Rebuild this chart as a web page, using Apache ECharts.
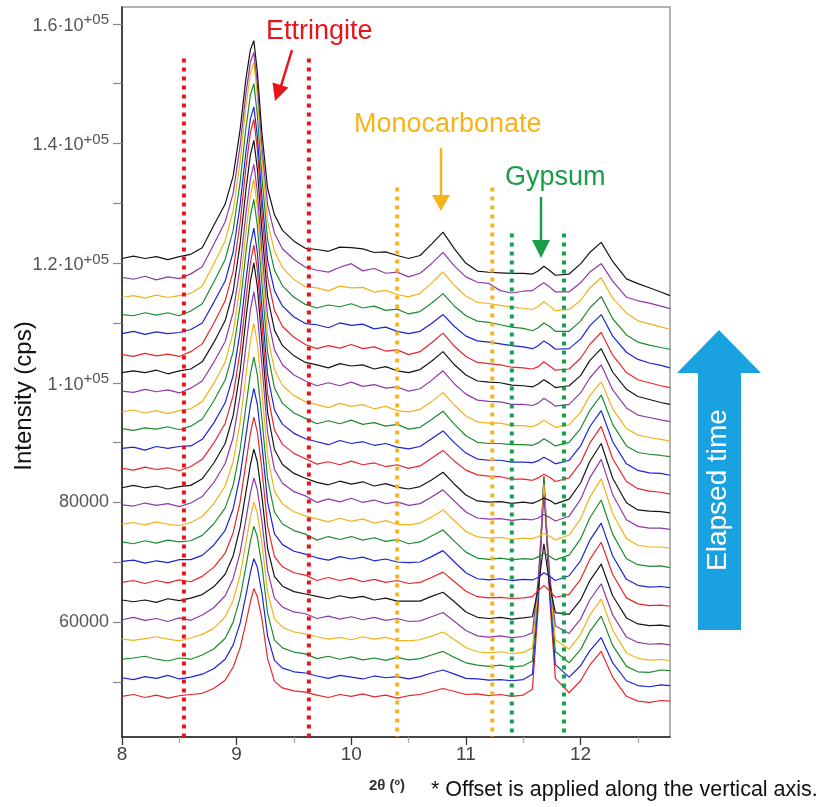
<!DOCTYPE html>
<html><head><meta charset="utf-8">
<script src="https://cdn.jsdelivr.net/npm/echarts@6/dist/echarts.min.js"></script>
<style>html,body{margin:0;padding:0;background:#fff}#c{width:827px;height:807px}</style>
</head><body><div id="c"></div>
<script>
// 2θ sampling positions (degrees)
const twoTheta = [8.00,8.10,8.20,8.30,8.40,8.50,8.60,8.70,8.80,8.90,8.97,9.03,9.08,9.12,9.15,9.18,9.22,9.27,9.33,9.40,9.50,9.60,9.70,9.80,9.90,10.00,10.10,10.20,10.30,10.40,10.50,10.60,10.70,10.80,10.90,11.00,11.10,11.20,11.30,11.40,11.50,11.58,11.63,11.68,11.73,11.78,11.90,12.00,12.08,12.18,12.28,12.40,12.50,12.60,12.70,12.78];
// vertical offset applied to each pattern (cps), bottom (first) to top (last)
const offsets = [47600,50700,53800,57150,60400,63700,66650,70150,73400,76350,79600,82450,85700,89050,92350,95150,98600,101700,104700,108200,111400,114250,117600,120770];
// patterns (cps, relative to their offset)
const s00 = [0,300,-200,200,-300,100,300,500,1300,2700,4900,8100,12200,15800,18000,16700,13000,6300,2500,1400,900,700,200,-200,300,0,400,-100,200,-300,100,300,800,1300,800,300,400,100,300,0,200,1200,14800,36800,16600,3000,600,2600,5200,7500,3200,0,-800,-1000,-700,-800];
const s01 = [0,-300,200,-100,400,-200,100,600,1500,3100,5500,9100,13700,17600,19900,18500,14200,7000,2900,1600,1000,800,300,-100,400,100,-200,300,0,200,-200,200,800,1300,600,-100,-200,-400,-300,-500,-300,600,12900,32900,14600,2200,100,2000,4500,6700,2500,-500,-1300,-1500,-1200,-1300];
const s02 = [0,200,500,0,-300,200,0,700,1700,3500,6200,10300,15400,19700,22200,20500,15700,7700,3200,1900,1200,900,100,500,0,400,-100,200,-200,300,-100,100,700,1300,300,-600,-1000,-1200,-1000,-1300,-1100,-300,11400,30400,13000,1300,-600,1600,4600,7200,2300,-1200,-2100,-2200,-1800,-1900];
const s03 = [0,-200,100,400,0,-300,200,800,1800,3700,6500,10700,16000,20400,22900,21100,16100,7900,3400,2000,1200,900,400,0,300,-100,400,0,300,-200,-300,-100,500,1200,-100,-1400,-2100,-2300,-2100,-2400,-2200,-1500,9000,25900,10400,-100,-1700,800,4000,6700,1500,-2300,-3200,-3500,-3400,-3600];
const s04 = [0,400,-100,200,-300,300,-100,800,2000,4000,6900,11200,16700,21200,23700,21800,16500,8200,3600,2100,1300,1000,200,600,100,500,0,400,-100,200,-300,-200,500,1200,-300,-1800,-2700,-2900,-2700,-3000,-2800,-2200,6600,20800,7700,-1000,-2300,100,3300,6000,800,-2900,-3800,-4100,-4000,-4200];
const s05 = [0,-300,0,-400,200,-100,300,900,2200,4300,7400,12100,17900,22600,25200,23100,17400,8600,3900,2300,1400,1000,600,200,700,300,600,0,300,-200,-200,-200,600,1300,-300,-2000,-2900,-3100,-2900,-3200,-3000,-2800,1900,9400,2500,-2100,-2400,0,3200,6000,700,-3000,-4000,-4300,-4200,-4400];
const s06 = [0,300,-200,300,-100,400,100,1000,2500,4900,8300,13400,19800,24900,27600,25200,18900,9400,4300,2600,1600,1200,300,800,300,700,100,500,0,300,-200,0,800,1700,100,-1500,-2400,-2600,-2500,-2700,-2600,-2400,-1400,-500,-1400,-2500,-2000,500,3800,6700,1300,-2600,-3600,-3900,-3800,-4000];
const s07 = [0,200,-300,100,-200,300,300,1000,2700,5200,8800,14300,20900,26100,28900,26300,19600,9900,4600,2800,1700,1200,600,200,800,400,700,100,400,-100,-200,-100,800,1800,-100,-1900,-2900,-3100,-2900,-3200,-3000,-3100,-2700,-1900,-2500,-3200,-2400,100,3500,6400,900,-3000,-4000,-4300,-4200,-4400];
const s08 = [0,-300,200,-200,300,0,200,1100,3000,5700,9500,15400,22500,28100,30900,28000,20700,10500,5000,3000,1900,1300,300,900,400,900,300,700,100,400,-300,0,1000,2000,100,-1700,-2700,-2900,-2700,-3000,-2800,-2900,-2500,-1900,-2400,-3000,-2200,500,4000,7000,1300,-2800,-3800,-4100,-4000,-4300];
const s09 = [0,300,-100,400,0,-200,300,1300,3400,6400,10500,17000,24700,30600,33600,30300,22300,11400,5500,3400,2100,1400,900,400,1000,500,900,200,600,0,-100,200,1200,2400,600,-1200,-2100,-2300,-2200,-2500,-2300,-2400,-2100,-1500,-2000,-2600,-1800,900,4500,7600,1800,-2400,-3500,-3800,-3800,-4000];
const s10 = [0,-200,300,-100,200,-300,300,1400,3700,6900,11300,18200,26400,32600,35600,32000,23500,12000,5900,3600,2200,1500,400,1000,500,1100,400,800,200,500,-100,200,1300,2500,600,-1200,-2200,-2400,-2300,-2600,-2400,-2500,-2200,-1600,-2100,-2700,-1900,900,4500,7600,1700,-2500,-3600,-3900,-3900,-4100];
const s11 = [0,400,0,300,-200,200,400,1500,4100,7400,12100,19400,28100,34500,37600,33700,24600,12600,6400,3900,2400,1600,900,500,1100,600,1000,300,700,100,-200,200,1300,2600,600,-1200,-2200,-2400,-2300,-2600,-2400,-2600,-2200,-1700,-2100,-2700,-1900,800,4400,7400,1600,-2500,-3700,-3900,-4000,-4200];
const s12 = [0,-300,200,-200,100,-400,300,1500,4200,7500,12200,19500,28100,34400,37300,33300,24100,12500,6400,4000,2500,1600,700,1100,600,1200,600,900,300,600,0,400,1700,3000,1200,-300,-1100,-1300,-1400,-1800,-1800,-2000,-1600,-1000,-1500,-2200,-1600,900,4200,7000,1600,-2200,-3400,-3800,-4000,-4300];
const s13 = [0,200,-300,300,0,300,400,1500,4200,7600,12200,19500,27900,34000,36800,32800,23600,12300,6400,4000,2500,1600,1100,600,1300,800,1100,500,800,200,-100,300,1600,2900,900,-800,-1800,-2000,-2000,-2300,-2300,-2400,-2100,-1500,-2000,-2600,-2000,400,3600,6300,1100,-2600,-3700,-4100,-4200,-4500];
const s14 = [0,-300,100,-100,300,-200,400,1600,4600,8100,12900,20500,29300,35600,38300,34000,24300,12700,6800,4200,2600,1700,800,1300,800,1400,700,1000,400,700,-100,200,1500,2900,700,-1200,-2300,-2500,-2500,-2700,-2700,-2800,-2400,-1700,-2300,-2900,-2300,0,3000,5600,700,-2900,-4000,-4300,-4500,-4700];
const s15 = [0,300,-200,200,-300,200,500,1700,4700,8300,13300,21000,29900,36200,38800,34300,24400,12800,7000,4400,2700,1700,1200,700,1400,900,1200,500,900,200,0,400,1700,3200,1100,-700,-1700,-1900,-1900,-2300,-2300,-2500,-2100,-1400,-2000,-2600,-2200,-100,2700,5000,500,-2800,-3900,-4300,-4600,-4900];
const s16 = [0,-200,300,-100,200,-300,500,1700,4800,8300,13200,20700,29500,35500,37900,33400,23600,12500,6900,4400,2700,1700,900,1400,900,1500,800,1100,500,700,0,400,1800,3400,1200,-500,-1500,-1700,-1800,-2200,-2200,-2400,-2000,-1200,-1800,-2500,-2200,-300,2200,4400,200,-2800,-4000,-4400,-4800,-5100];
const s17 = [0,300,0,400,-200,300,600,1800,5000,8700,13600,21500,30400,36400,38800,34100,23900,12700,7100,4500,2800,1700,1300,800,1500,1100,1300,600,1000,300,0,500,1900,3500,1300,-400,-1400,-1600,-1700,-2100,-2200,-2400,-1900,-1200,-1800,-2500,-2200,-500,2000,4000,100,-2800,-4000,-4500,-5000,-5300];
const s18 = [0,-300,200,-200,100,-300,500,1800,5200,9000,14000,22000,31100,37100,39300,34400,24000,12900,7400,4700,2900,1700,1000,1500,1100,1700,1000,1300,600,800,0,500,2000,3600,1400,-300,-1300,-1500,-1700,-2100,-2200,-2400,-2000,-1200,-1900,-2600,-2400,-600,1700,3700,-100,-3000,-4200,-4700,-5200,-5500];
const s19 = [0,400,-100,300,0,200,700,1800,5200,8800,13700,21500,30200,35900,37900,33100,22900,12300,7200,4600,2800,1700,1500,1000,1800,1400,1600,800,1100,400,0,400,1700,3200,1200,-400,-1200,-1400,-1700,-2000,-2200,-2500,-2000,-1200,-1800,-2600,-2500,-900,1300,3200,-400,-3100,-4300,-4900,-5300,-5700];
const s20 = [0,-200,300,-100,300,-200,600,1800,5400,9200,14100,22100,31000,36700,38600,33500,23100,12500,7400,4800,2900,1700,1100,1600,1300,1800,1100,1400,700,900,100,500,1900,3500,1400,-200,-1100,-1300,-1700,-2100,-2300,-2700,-2200,-1400,-2000,-2800,-2800,-1100,1100,3000,-700,-3400,-4600,-5100,-5500,-5800];
const s21 = [0,300,-100,400,0,300,700,1900,5600,9500,14500,22700,31800,37500,39300,34000,23300,12700,7700,5000,3000,1800,1600,1100,1900,1600,1700,900,1200,500,100,700,2400,4300,2000,200,-800,-1000,-1300,-1600,-1800,-2000,-1500,-700,-1400,-2200,-2000,-500,1600,3300,-100,-2600,-3900,-4400,-4900,-5300];
const s22 = [0,-300,200,-400,100,-200,600,1800,5500,9300,14100,22000,30600,36000,37600,32500,22000,12100,7400,4800,3000,1700,1200,900,1700,2300,1100,1500,700,900,100,700,2300,4200,1900,100,-800,-1000,-2200,-2600,-2300,-2200,-1500,-900,-1600,-2400,-2400,-900,900,2300,-600,-3300,-3900,-4300,-4800,-5200];
const s23 = [0,400,0,300,-200,300,700,1800,5500,9100,13800,21500,29900,34900,36400,31300,21100,11700,7300,4700,2900,1700,1500,1200,1900,1800,1600,1000,1100,500,0,500,2400,4400,1600,-800,-2100,-2300,-2400,-2500,-2500,-2600,-2100,-1300,-2000,-2800,-2600,-900,1000,2700,-500,-3400,-4200,-4900,-5600,-6200];
const patterns = [s00,s01,s02,s03,s04,s05,s06,s07,s08,s09,s10,s11,s12,s13,s14,s15,s16,s17,s18,s19,s20,s21,s22,s23];

// phase windows (dotted markers): 2θ position and top intensity
const markerX = [8.54, 9.63, 10.40, 11.23, 11.40, 11.855];
const markerTop = [154200, 154200, 132650, 132650, 124960, 124960];

// axes
const yMin = 40800, yMax = 162800, xMin = 8, xMax = 12.78;
const yLabelValues = [60000, 80000, 100000, 120000, 140000, 160000];
const yTickValues = [50000, 60000, 70000, 80000, 90000, 100000, 110000, 120000, 130000, 140000, 150000, 160000];
const xLabelValues = [8, 9, 10, 11, 12];
const xMinorValues = [8.5, 9.5, 10.5, 11.5, 12.5];

const palette = ['#e8262b', '#1a24d4', '#1b8c2c', '#f2b21b', '#8e3aa6', '#141414'];
const markerColors = ['#e8141c', '#e8141c', '#f6b51e', '#f6b51e', '#16a04c', '#16a04c'];
const FONT = '"Liberation Sans", Arial, sans-serif';

const curveSeries = patterns.map((p, i) => ({
  type: 'line',
  data: twoTheta.map((x, k) => [x, p[k] + offsets[i]]),
  symbol: 'none', silent: true, z: 2,
  lineStyle: { width: 1.2, color: palette[i % palette.length] }
}));
const markerSeries = markerX.map((x, i) => ({
  type: 'line',
  data: [[x, markerTop[i]], [x, yMin]],
  symbol: 'none', silent: true, z: 4,
  lineStyle: { width: 4, color: markerColors[i], type: [4, 5], cap: 'butt' }
}));

function fmtY(v) {
  if (v >= 100000) return '{m|' + String(v / 100000) + '·10}{s|+05}';
  return '{p|' + v + '}';
}

const chart = echarts.init(document.getElementById('c'), null, { renderer: 'canvas' });
chart.setOption({
  animation: false,
  backgroundColor: '#fff',
  grid: { left: 122, right: 157, top: 7, bottom: 70, show: true, borderColor: '#9a9a9a', borderWidth: 1.5, backgroundColor: 'transparent' },
  xAxis: [{
    type: 'value', min: xMin, max: xMax, position: 'bottom',
    axisLine: { show: true, onZero: false, lineStyle: { color: '#222', width: 1.5 } },
    axisTick: { show: true, customValues: xLabelValues, length: 8, lineStyle: { color: '#333', width: 1.3 } },
    axisLabel: { customValues: xLabelValues, margin: 8, fontSize: 19, color: '#444', fontFamily: FONT },
    splitLine: { show: false }
  }, {
    type: 'value', min: xMin, max: xMax, position: 'bottom',
    axisLine: { show: false, onZero: false },
    axisTick: { show: true, customValues: xMinorValues, length: 6, lineStyle: { color: '#aaa', width: 1.3 } },
    axisLabel: { show: false },
    splitLine: { show: false }
  }],
  yAxis: {
    type: 'value', min: yMin, max: yMax,
    axisLine: { show: true, onZero: false, lineStyle: { color: '#222', width: 1.5 } },
    axisTick: { show: true, customValues: yTickValues, length: 9, lineStyle: { color: '#888', width: 1.2 } },
    axisLabel: {
      customValues: yLabelValues, margin: 13, formatter: fmtY,
      rich: {
        m: { fontSize: 18, color: '#555', fontFamily: FONT, lineHeight: 22, verticalAlign: 'bottom' },
        s: { fontSize: 15, color: '#555', fontFamily: FONT, lineHeight: 22, verticalAlign: 'top' },
        p: { fontSize: 18, color: '#555', fontFamily: FONT, lineHeight: 18 }
      }
    },
    splitLine: { show: false }
  },
  series: curveSeries.concat(markerSeries),
  graphic: [
    { type: 'text', x: 24, y: 396, rotation: Math.PI / 2, z: 10,
      style: { text: 'Intensity (cps)', fill: '#111', fontSize: 24, fontFamily: FONT, align: 'center', verticalAlign: 'middle' } },
    { type: 'text', x: 387, y: 786, z: 10,
      style: { text: '2θ (º)', fill: '#333', fontSize: 15, fontWeight: 'bold', fontFamily: FONT, align: 'center', verticalAlign: 'middle' } },
    { type: 'text', x: 431, y: 790, z: 10,
      style: { text: '* Offset is applied along the vertical axis.', fill: '#111', fontSize: 21.5, fontFamily: FONT, align: 'left', verticalAlign: 'middle' } },
    { type: 'text', x: 266, y: 32, z: 10,
      style: { text: 'Ettringite', fill: '#e8141c', fontSize: 27, fontFamily: FONT, align: 'left', verticalAlign: 'middle' } },
    { type: 'line', z: 10, shape: { x1: 292, y1: 50, x2: 281, y2: 86 }, style: { stroke: '#e8141c', lineWidth: 2.5 } },
    { type: 'polygon', z: 10, shape: { points: [[272.5, 82.5], [288.5, 87.5], [275, 101]] }, style: { fill: '#e8141c' } },
    { type: 'text', x: 354, y: 125, z: 10,
      style: { text: 'Monocarbonate', fill: '#f5b41a', fontSize: 27, fontFamily: FONT, align: 'left', verticalAlign: 'middle' } },
    { type: 'line', z: 10, shape: { x1: 441, y1: 148, x2: 441, y2: 197 }, style: { stroke: '#f5b41a', lineWidth: 2.5 } },
    { type: 'polygon', z: 10, shape: { points: [[432, 195], [450, 195], [441, 211]] }, style: { fill: '#f5b41a' } },
    { type: 'text', x: 505, y: 178, z: 10,
      style: { text: 'Gypsum', fill: '#1a9c4a', fontSize: 27, fontFamily: FONT, align: 'left', verticalAlign: 'middle' } },
    { type: 'line', z: 10, shape: { x1: 541, y1: 197, x2: 541, y2: 242 }, style: { stroke: '#1a9c4a', lineWidth: 2.5 } },
    { type: 'polygon', z: 10, shape: { points: [[532, 240], [550, 240], [541, 258]] }, style: { fill: '#1a9c4a' } },
    { type: 'polygon', z: 10, shape: { points: [[719, 330], [761, 373], [741, 373], [741, 630], [698, 630], [698, 373], [677, 373]] }, style: { fill: '#1aa2e0' } },
    { type: 'text', x: 718, y: 490, rotation: Math.PI / 2, z: 11,
      style: { text: 'Elapsed time', fill: '#fff', fontSize: 28, fontFamily: FONT, align: 'center', verticalAlign: 'middle' } }
  ]
});
</script>
</body></html>
